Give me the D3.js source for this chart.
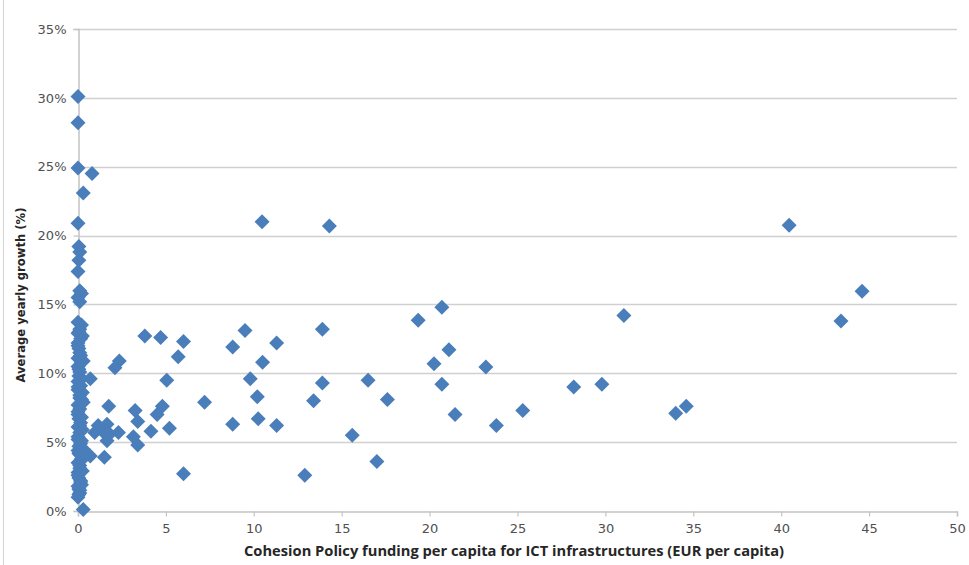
<!DOCTYPE html>
<html>
<head>
<meta charset="utf-8">
<script src="https://cdn.jsdelivr.net/npm/d3@7/dist/d3.min.js"></script>
<style>
  html, body { margin: 0; padding: 0; background: #fff; }
  svg { display: block; }
</style>
</head>
<body>
<svg id="chart" width="969" height="565"></svg>
<script>
// Cohesion Policy ICT funding per capita (EUR) for each region
const fundingPerCapita = [
  0, 0, 0, 0.8, 0.3, 0, 0.05, 0.1, 0.05, 0, 0.1, 0.2, 0, 0.1,
  0, 0.1, 0, 0.15, 0, 0.05, 0.1, 0, 0.2, 0, 0.1, 0.05, 0, 0.15, 0, 0.1, 0.2,
  0, 0.1, 0, 0.05, 0.15, 0, 0.1, 0, 0.2, 0.05, 0, 0.1, 0.2, 0, 0.1, 0, 0.05,
  0.15, 0, 0.1, 0.05, 0.3,
  0.2, 0.05, 0.25, 0, 0.15, 0.3, 0.05, 0.2, 0, 0.25, 0.1, 0.3, 0, 0.2, 0.1,
  0.25, 0, 0.15, 0.3, 0.05, 0.2, 0.1, 0.25, 0, 0.15, 0.2, 0.05, 0.1, 0,
  0.7, 0.7, 1.5,
  1.15, 1.65, 0.95, 1.4, 1.8, 2.3, 1.65, 1.75, 2.1, 2.35,
  3.25, 3.4, 3.15, 3.4, 3.8, 4.7, 6.0, 5.7, 5.05, 4.8, 4.5, 4.15, 5.2, 6.0,
  7.2, 8.8, 9.5, 9.8, 10.2, 10.5, 10.25, 8.8, 10.47, 14.3, 13.9, 11.3, 11.3,
  13.9, 13.4, 15.6, 12.9, 16.5, 17.6, 17.0, 19.35, 20.7, 21.1, 20.25, 20.7,
  21.45, 23.2, 23.8, 25.3, 28.2, 29.8, 31.05, 34.0, 34.6, 40.45, 44.6, 43.4
];

// Average yearly growth (%) for the same regions
const yearlyGrowth = [
  30.1, 28.2, 24.9, 24.5, 23.1, 20.9, 19.2, 18.8, 18.2, 17.4, 16.0, 15.8, 15.5, 15.2,
  13.7, 13.2, 12.9, 12.5, 12.2, 11.8, 11.5, 11.1, 10.8, 10.5, 10.1, 9.8, 9.4, 9.1, 8.8, 8.4, 8.1,
  7.7, 7.4, 7.0, 6.7, 6.4, 6.1, 5.7, 5.4, 5.1, 4.7, 4.4, 4.1, 3.8, 3.5, 3.1, 2.8, 2.4,
  2.1, 1.8, 1.5, 1.2, 0.1,
  13.5, 13.0, 12.7, 12.0, 11.3, 10.9, 10.3, 9.6, 9.0, 8.6, 8.2, 7.9, 7.2, 6.8, 6.2,
  5.9, 5.2, 4.9, 4.5, 4.2, 3.7, 3.3, 2.9, 2.6, 2.2, 1.9, 1.6, 1.3, 1.0,
  9.6, 4.0, 3.9,
  6.2, 6.3, 5.7, 5.8, 5.6, 5.7, 5.1, 7.6, 10.4, 10.9,
  7.3, 6.5, 5.4, 4.8, 12.7, 12.6, 12.3, 11.2, 9.5, 7.6, 7.0, 5.8, 6.0, 2.7,
  7.9, 11.9, 13.1, 9.6, 8.3, 10.8, 6.7, 6.3, 21.0, 20.7, 13.2, 12.2, 6.2,
  9.3, 8.0, 5.5, 2.6, 9.5, 8.1, 3.6, 13.85, 14.8, 11.7, 10.7, 9.2,
  7.0, 10.45, 6.2, 7.3, 9.0, 9.2, 14.2, 7.1, 7.6, 20.75, 15.95, 13.8
];

const xTicks = [0, 5, 10, 15, 20, 25, 30, 35, 40, 45, 50];
const yTicks = [0, 5, 10, 15, 20, 25, 30, 35];

const xTitle = "Cohesion Policy funding per capita for ICT infrastructures (EUR per capita)";
const yTitle = "Average yearly growth (%)";

const points = fundingPerCapita.map((x, i) => ({ x, y: yearlyGrowth[i] }));

const svg = d3.select("#chart");
const plot = { left: 78, right: 957, top: 29, bottom: 511 };

const x = d3.scaleLinear().domain([0, 50]).range([plot.left, plot.right]);
const y = d3.scaleLinear().domain([0, 35]).range([plot.bottom, plot.top]);

// thin frame line along the left edge
svg.append("line")
  .attr("x1", 3.5).attr("x2", 3.5).attr("y1", 0).attr("y2", 565)
  .attr("stroke", "#d4d4d4").attr("stroke-width", 1);

// horizontal gridlines
svg.append("g")
  .selectAll("line")
  .data(yTicks.filter(t => t > 0))
  .join("line")
  .attr("x1", plot.left).attr("x2", plot.right)
  .attr("y1", d => Math.round(y(d)) + 0.5).attr("y2", d => Math.round(y(d)) + 0.5)
  .attr("stroke", "#d0d0d0").attr("stroke-width", 1.5);

// y axis
const yAxis = svg.append("g")
  .attr("transform", `translate(${plot.left + 0.5},0)`)
  .call(d3.axisLeft(y).tickValues(yTicks).tickFormat(d => d + "%").tickSize(5).tickPadding(7));

// x axis
const xAxis = svg.append("g")
  .attr("transform", `translate(0,${Math.round(plot.bottom) + 0.5})`)
  .call(d3.axisBottom(x).tickValues(xTicks).tickFormat(d3.format("d")).tickSize(5).tickPadding(7));

[yAxis, xAxis].forEach(g => {
  g.select(".domain").attr("stroke", "#c4c4c4").attr("stroke-width", 1.5);
  g.selectAll(".tick line").attr("stroke", "#c4c4c4").attr("stroke-width", 1.2);
  g.selectAll(".tick text")
    .attr("fill", "#505050")
    .style("font-family", "'DejaVu Sans', Verdana, sans-serif")
    .style("font-size", "13px");
});

// diamond markers
const half = 7.5;
const diamond = `M0,${-half}L${half},0L0,${half}L${-half},0Z`;
svg.append("g")
  .selectAll("path")
  .data(points)
  .join("path")
  .attr("d", diamond)
  .attr("transform", d => `translate(${x(d.x)},${y(d.y)})`)
  .attr("fill", "#4a7ebb");

// axis titles
svg.append("text")
  .attr("x", 514).attr("y", 556)
  .attr("text-anchor", "middle")
  .attr("textLength", 540).attr("lengthAdjust", "spacingAndGlyphs")
  .style("font-family", "'Open Sans', 'Liberation Sans', sans-serif")
  .style("font-weight", "bold")
  .style("font-size", "14px")
  .attr("fill", "#262626")
  .text(xTitle);

svg.append("text")
  .attr("transform", "translate(25,295) rotate(-90)")
  .attr("text-anchor", "middle")
  .attr("textLength", 175).attr("lengthAdjust", "spacingAndGlyphs")
  .style("font-family", "'DejaVu Sans', Verdana, sans-serif")
  .style("font-weight", "bold")
  .style("font-size", "12px")
  .attr("fill", "#262626")
  .text(yTitle);
</script>
</body>
</html>
